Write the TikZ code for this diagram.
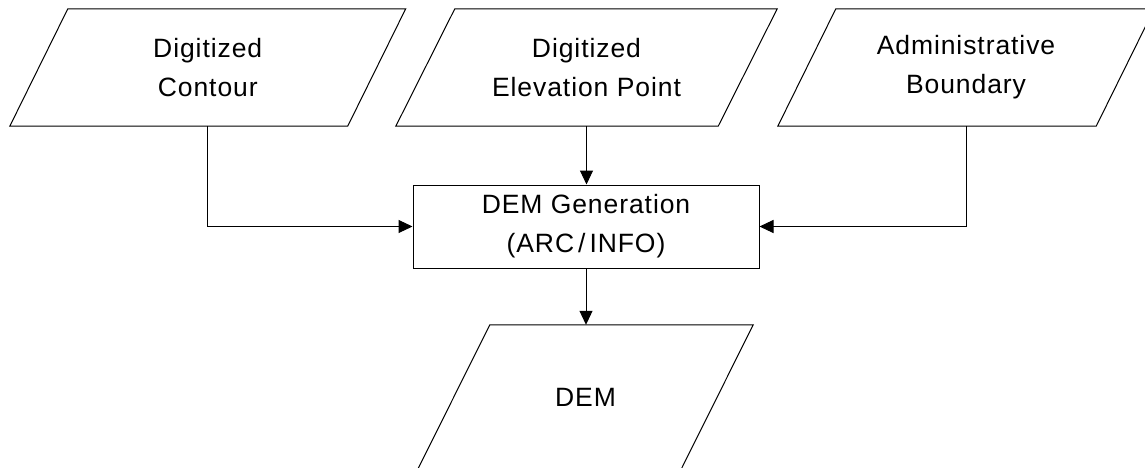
\documentclass[tikz,border=0pt]{standalone}
\usepackage{fontspec}
\setmainfont{Liberation Sans}[LetterSpace=3.5]
\usetikzlibrary{arrows.meta}

% parallelogram outline around a named (undrawn) node, slanted by #2
\newcommand\slantframe[2]{%
  \draw[frame] ([xshift=#2]#1.north west) -- ([xshift=#2]#1.north east)
    -- ([xshift=-#2]#1.south east) -- ([xshift=-#2]#1.south west) -- cycle;}

\begin{document}
\begin{tikzpicture}[x=1pt,y=-1pt,
  label/.style={inner sep=0pt, align=center,
    font=\fontsize{26.5}{39}\selectfont},
  iobox/.style={label, minimum height=117pt},
  procbox/.style={label, draw, line width=1pt, minimum width=346pt, minimum height=83pt},
  frame/.style={line width=1pt, line join=miter},
  flow/.style={line width=1pt, -{Triangle[length=14pt,width=13pt]}}]

\useasboundingbox (0,0) rectangle (1145,468);

% data inputs
\node[iobox, minimum width=337.5pt] (contour) at (207.75,67.5) {Digitized\\Contour};
\node[iobox, minimum width=322pt] (elev) at (586.5,67.5) {Digitized\\Elevation Point};
\node[iobox, minimum width=318pt] (admin) at (966,67.5) {Administrative\\Boundary};
\slantframe{contour}{29pt}
\slantframe{elev}{29.5pt}
\slantframe{admin}{29pt}

% processing step
\node[procbox] (gen) at (586,226.5) {DEM Generation\\(ARC\kern4pt/\kern4pt INFO)};

% output
\node[label, minimum width=263pt, minimum height=144pt] (dem) at (585.5,397) {DEM};
\slantframe{dem}{36pt}

% flows
\draw[flow] (contour.south) |- (gen.west);
\draw[flow] (elev.south) -- (elev.south |- gen.north);
\draw[flow] (admin.south) |- (gen.east);
\draw[flow] (gen.south) -- (gen.south |- dem.north);
\end{tikzpicture}
\end{document}
